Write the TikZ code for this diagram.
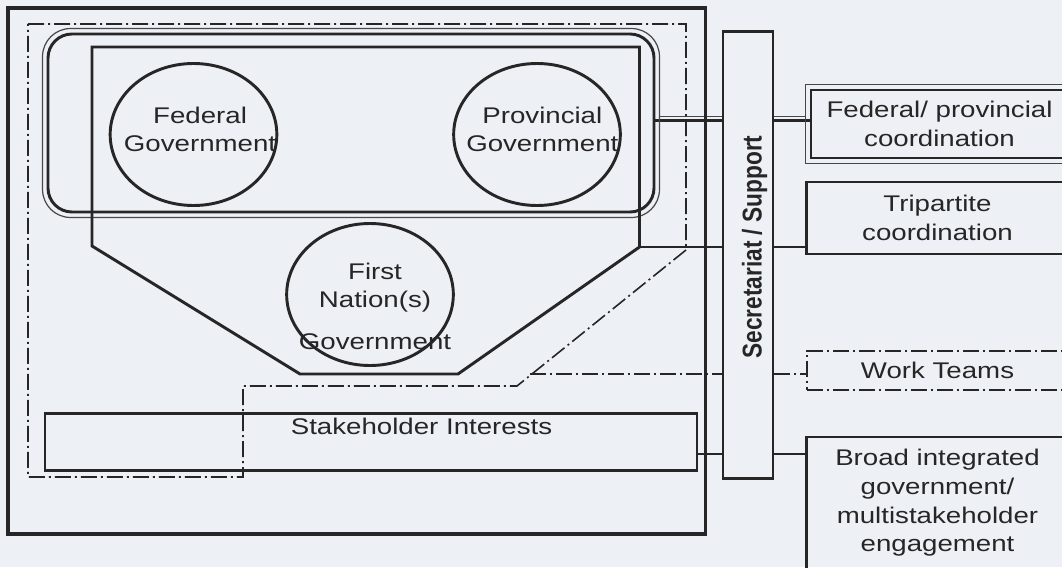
\documentclass[tikz,border=0pt]{standalone}
\usepackage{fontspec}
\setmainfont{Liberation Sans}[FakeStretch=1.22]
\newfontfamily\barfont{Liberation Sans}
\usepackage{tikz}
\usetikzlibrary{shapes.geometric}
\usetikzlibrary{backgrounds}
\usetikzlibrary{calc}
\definecolor{paper}{RGB}{237,240,245}
\definecolor{ink}{RGB}{38,38,38}
\tikzstyle{heavy}=[draw=ink,line width=2.2pt]
\tikzstyle{rim}=[draw=ink!85,line width=0.9pt]
\tikzstyle{govt}=[heavy,ellipse,minimum width=125pt,minimum height=106.5pt,inner sep=0pt]
\tikzstyle{txt}=[text=ink,align=center,font=\fontsize{17}{21.5}\selectfont]
\tikzstyle{panel}=[heavy,rectangle,minimum width=196pt,inner sep=0pt,txt]
\tikzstyle{dashdotline}=[draw=ink,line width=1.2pt,dash pattern=on 12pt off 3pt on 1.5pt off 3pt]

\begin{document}
\begin{tikzpicture}[x=0.75pt,y=-0.75pt,color=ink]
\tikzstyle{govt}=[heavy,ellipse,minimum width=125pt,minimum height=106.5pt,inner sep=0pt]
\tikzstyle{txt}=[text=ink,align=center,font=\fontsize{17}{21.5}\selectfont]
\useasboundingbox (0,0) rectangle (1062,567);
\clip (0,0) rectangle (1062,567);
\begin{pgfonlayer}{background}
\fill[paper] (0,0) rectangle (1062,567);
\end{pgfonlayer}

\draw[heavy,line width=2.3pt] (8,8) rectangle (705.5,534);
\draw[dashdotline] (28,24) -- (686,24) -- (686,250) -- (517,386) -- (243,386) -- (243,477) -- (28,477) -- cycle;

\node [heavy,rounded corners=18pt,minimum width=454.5pt,minimum height=133.5pt] (govbox) at (351,123) {};
\draw[rim,rounded corners=21pt] ([shift={(-4,-4)}]govbox.north west) rectangle ([shift={(4,4)}]govbox.south east);
\draw[heavy] (92,47) -- (639.5,47) -- (639.5,247) -- (458,374) -- (300,374) -- (92,246) -- cycle;
\coordinate (polyR) at (639.5,247);

\node [govt] (fed) at (193.5,134.5) {};
\node [govt] (prov) at (537,134.5) {};
\node [govt] (fn) at (370,294.5) {};
\node (fedtxt) at (fed) [txt,xshift=4.9pt,yshift=3.75pt] {Federal\\Government};
\node (provtxt) at (prov) [txt,xshift=4pt,yshift=3.75pt] {Provincial\\Government};
\node (fntxt) at (fn) [txt,xshift=3.75pt,yshift=-8.9pt] {First\\Nation(s)\\[10pt]Government};

\node [heavy,minimum width=489pt,minimum height=43pt,inner sep=0pt] (stake) at (371,442) {};
\node (staketxt) at (421.5,434) [txt,anchor=base] {Stakeholder Interests};

\node [heavy,minimum width=37.5pt,minimum height=334.7pt,inner sep=0pt] (bar) at (748,255) {};
\node (bartxt) at (bar) [xshift=5pt,yshift=6pt] {\rotatebox{90}{\scalebox{1}[1.2]{\barfont\bfseries\fontsize{17}{20}\selectfont Secretariat / Support}}};

\node [panel,minimum width=192.75pt,minimum height=51pt] (fp) at (939.5,124) {Federal/ provincial\\coordination};
\draw[rim] ([shift={(-4,-4)}]fp.north west) rectangle ([shift={(4,4)}]fp.south east);
\node [panel,minimum height=54pt] (trip) at (937.5,218) {Tripartite\\coordination};
\node [panel,dashdotline,minimum height=29.25pt] (wt) at (937.5,370.5) {Work Teams};
\node [panel,minimum height=99pt] (brd) at (937.5,503) {Broad integrated\\government/\\multistakeholder\\engagement};

\coordinate (govR) at ([yshift=1.9pt]govbox.east);
\coordinate (govT) at ([xshift=3pt,yshift=3pt]govR);
\coordinate (fpRim) at ([xshift=-3pt]fp.west);
\coordinate (wtL) at (530,374);
\coordinate (skR) at ([yshift=-9pt]stake.east);
\begin{pgfonlayer}{background}
\draw[heavy,line width=1.8pt] (govR) -- (govR -| bar.west) (govR -| bar.east) -- (govR -| fp.west);
\draw[rim] (govT) -- (govT -| bar.west) (govT -| bar.east) -- (govT -| fpRim);
\draw[heavy] (polyR) -- (polyR -| bar.west) (polyR -| bar.east) -- (polyR -| trip.west);
\draw[dashdotline] (wtL) -- (wtL -| bar.west) (wtL -| bar.east) -- (wtL -| wt.west);
\draw[heavy] (skR) -- (skR -| bar.west) (skR -| bar.east) -- (skR -| brd.west);
\end{pgfonlayer}

\end{tikzpicture}
\end{document}
